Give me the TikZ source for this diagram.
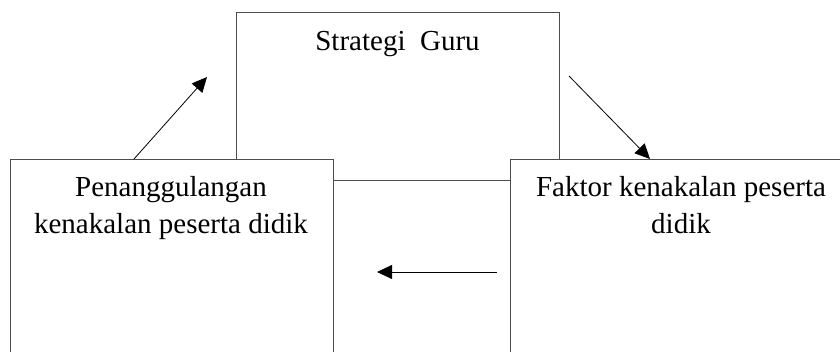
\documentclass[tikz,border=0pt]{standalone}
\usepackage{fontspec}
\setmainfont{Liberation Serif}
\usetikzlibrary{arrows.meta,calc}
\begin{document}
\begin{tikzpicture}[x=1pt,y=-1pt,
  box/.style={draw=black!70,line width=0.9pt,fill=white,rectangle,inner sep=0pt,anchor=north west},
  lbl/.style={font=\fontsize{29}{37}\selectfont,inner sep=0pt,anchor=base},
  arr/.style={-{Triangle[length=15pt,width=14pt]},line width=0.8pt,draw=black}]
\useasboundingbox (0,0) rectangle (840,351);
\clip (0,0) rectangle (840,351);
\node[box,minimum width=323.5pt,minimum height=168pt] (top) at (235.5,12) {};
\node[box,minimum width=323pt,minimum height=250pt] (left) at (9.5,159) {};
\node[box,minimum width=343pt,minimum height=250pt] (right) at (509.5,159) {};
\node[lbl] (ttop) at (397.5,50) {Strategi\hspace{0.5em}Guru};
\node[lbl] (tleft1) at (171,196) {Penanggulangan};
\node[lbl] (tleft2) at (171,233) {kenakalan peserta didik};
\node[lbl] (tright1) at (681,196) {Faktor kenakalan peserta};
\node[lbl] (tright2) at (681,233) {didik};
\coordinate (a1s) at ($(left.north west)+(124.5,0)$);
\coordinate (a1e) at (207,77);
\coordinate (a2s) at (569,76);
\coordinate (a2e) at ($(right.north west)+(140.5,0)$);
\coordinate (a3s) at (497,272);
\coordinate (a3e) at (377,272);
\draw[arr] (a1s) -- (a1e);
\draw[arr] (a2s) -- (a2e);
\draw[arr] (a3s) -- (a3e);
\end{tikzpicture}
\end{document}
